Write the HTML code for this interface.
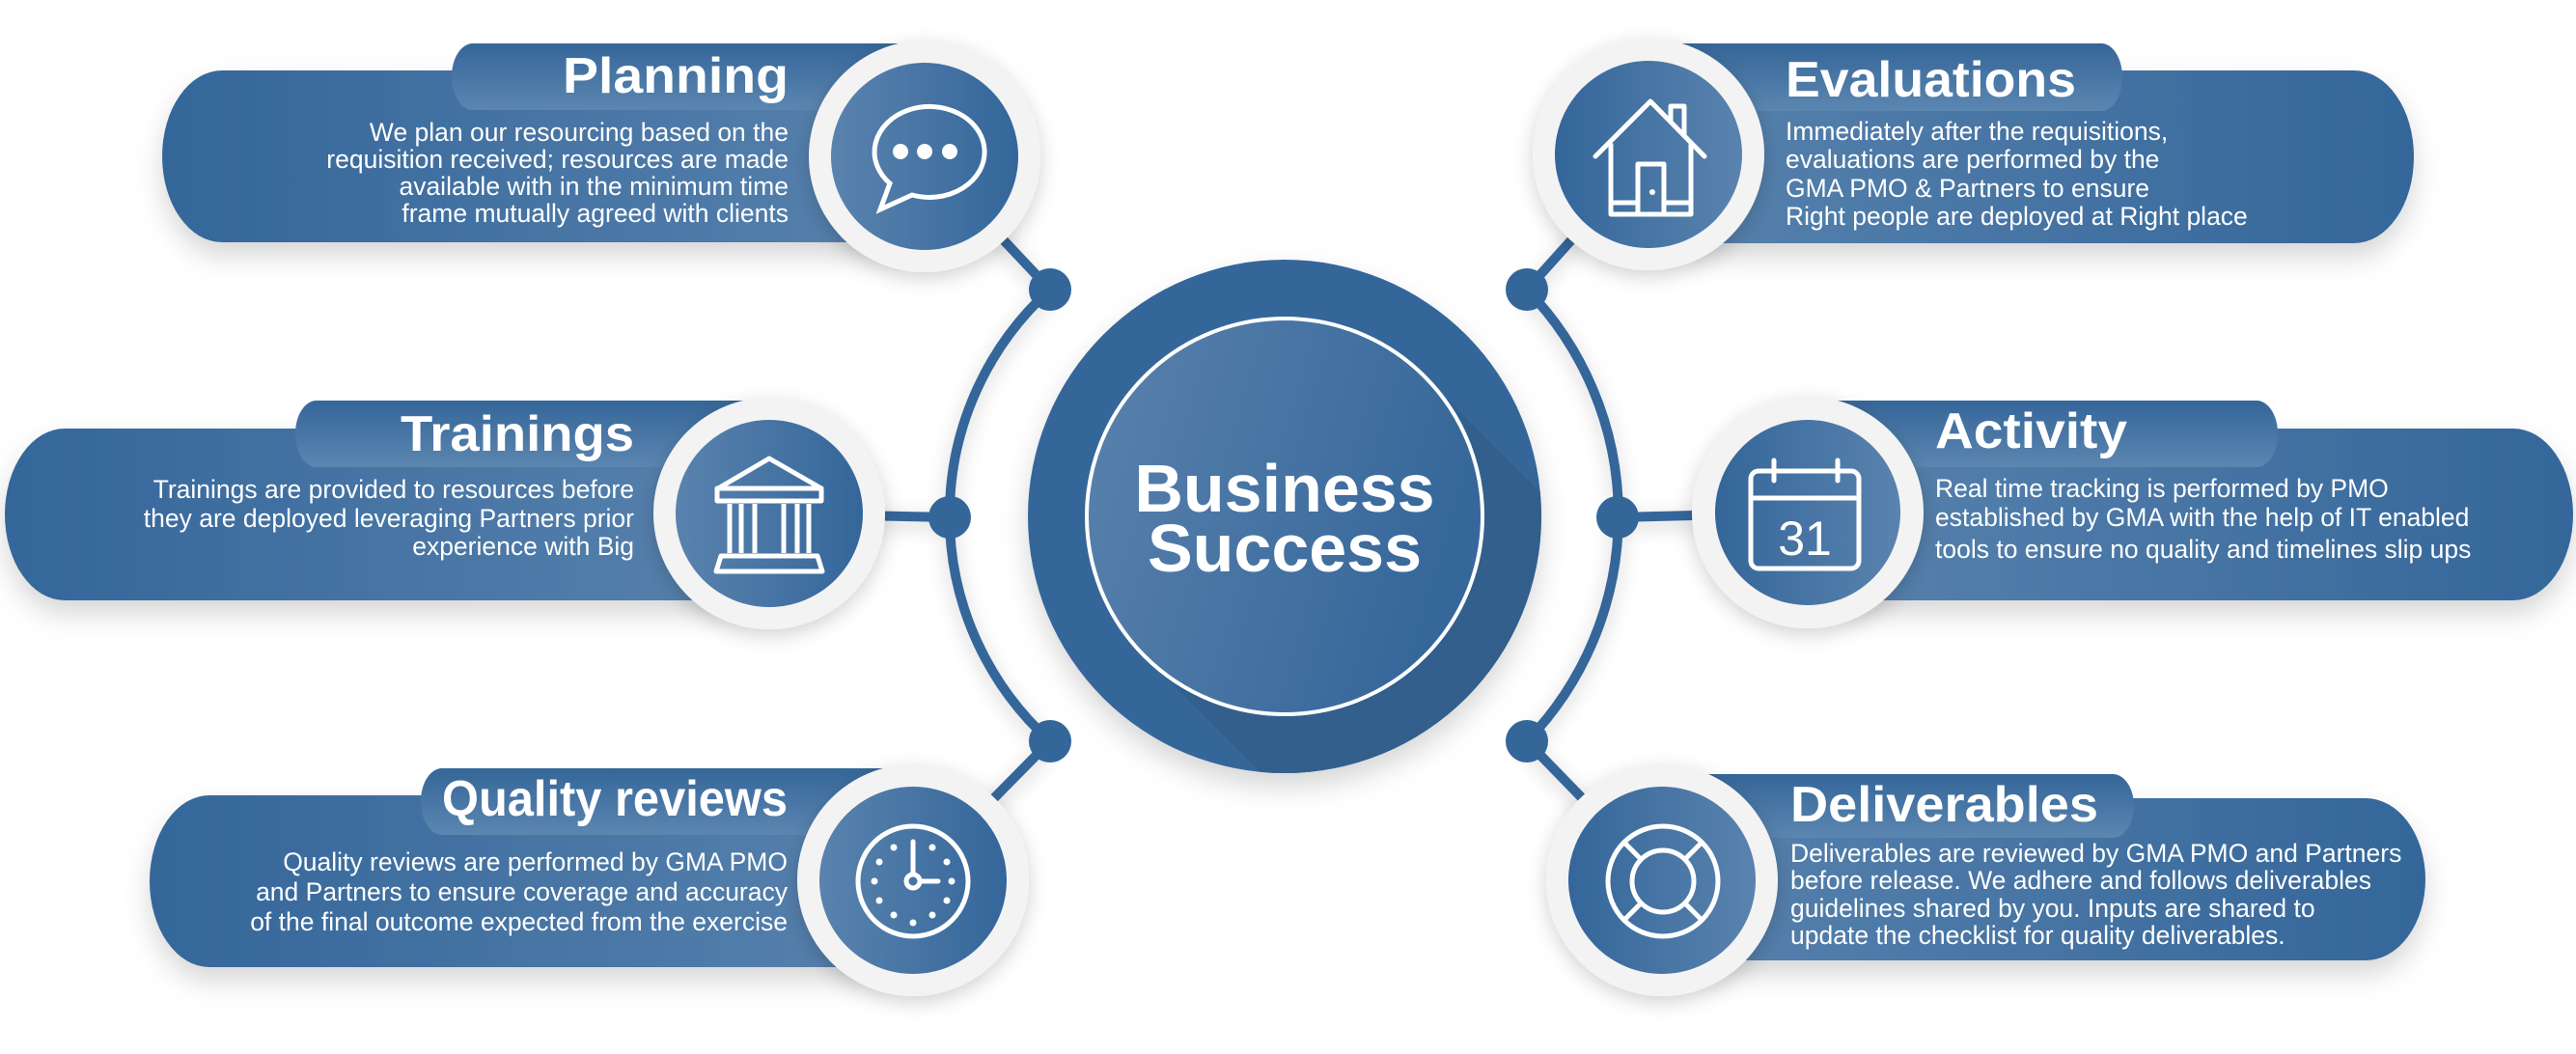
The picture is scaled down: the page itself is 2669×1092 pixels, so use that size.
<!DOCTYPE html>
<html><head><meta charset="utf-8"><style>
html,body{margin:0;padding:0;background:#fff;}
svg{display:block;}
text{font-family:"Liberation Sans",sans-serif;fill:#fff;}
.t{font-weight:bold;font-size:52px;}
.b{font-size:26.5px;}
</style></head><body>
<svg width="2669" height="1092" viewBox="0 0 2669 1092" xmlns="http://www.w3.org/2000/svg">
<defs>
<linearGradient id="tab" x1="0" y1="0" x2="0" y2="1"><stop offset="0" stop-color="#356699"/><stop offset="1" stop-color="#5b86b0"/></linearGradient>
<linearGradient id="bodyL" x1="0" y1="0" x2="1" y2="0"><stop offset="0" stop-color="#34669a"/><stop offset="1" stop-color="#5882ad"/></linearGradient>
<linearGradient id="bodyR" x1="0" y1="0" x2="1" y2="0"><stop offset="0" stop-color="#5882ad"/><stop offset="1" stop-color="#34669a"/></linearGradient>
<linearGradient id="icL" x1="0" y1="0" x2="1" y2="0"><stop offset="0" stop-color="#5a83ae"/><stop offset="1" stop-color="#34669a"/></linearGradient>
<linearGradient id="icR" x1="0" y1="0" x2="1" y2="0"><stop offset="0" stop-color="#34669a"/><stop offset="1" stop-color="#5a83ae"/></linearGradient>
<linearGradient id="cin" x1="0" y1="0" x2="1" y2="0.3"><stop offset="0" stop-color="#5a82ad"/><stop offset="1" stop-color="#36679a"/></linearGradient>
<filter id="sh" x="-20%" y="-30%" width="140%" height="170%"><feDropShadow dx="0" dy="14" stdDeviation="14" flood-color="#000" flood-opacity="0.16"/></filter>
<filter id="sh2" x="-30%" y="-30%" width="160%" height="160%"><feDropShadow dx="0" dy="6" stdDeviation="10" flood-color="#000" flood-opacity="0.18"/></filter>
<clipPath id="cc"><circle cx="1331" cy="535" r="266"/></clipPath>
</defs>

<g stroke="#34669a" stroke-width="10" fill="none" filter="url(#sh2)">
<path d="M1088,300 A315,315 0 0 0 1088,768"/>
<path d="M1582,300 A336,336 0 0 1 1582,768"/>
<line x1="1088" y1="300" x2="958" y2="162"/>
<line x1="984" y1="536" x2="797" y2="532"/>
<line x1="1088" y1="768" x2="946" y2="912"/>
<line x1="1582" y1="300" x2="1708" y2="160"/>
<line x1="1676" y1="536" x2="1873" y2="531"/>
<line x1="1582" y1="768" x2="1722" y2="912"/>
</g>
<g fill="#34669a">
<circle cx="1088" cy="300" r="22"/><circle cx="984" cy="536" r="22"/><circle cx="1088" cy="768" r="22"/>
<circle cx="1582" cy="300" r="22"/><circle cx="1676" cy="536" r="22"/><circle cx="1582" cy="768" r="22"/>
</g>

<circle cx="1331" cy="535" r="266" fill="#34669a" filter="url(#sh)"/>
<g clip-path="url(#cc)"><polygon points="1476,390 1186,680 1586,1080 1876,790" fill="#325f8c"/></g>
<circle cx="1331" cy="535" r="205" fill="url(#cin)" stroke="#fff" stroke-width="4"/>
<text x="1331" y="530" text-anchor="middle" font-weight="bold" font-size="70">Business</text>
<text x="1331" y="592" text-anchor="middle" font-weight="bold" font-size="70">Success</text>

<!-- Planning -->
<g filter="url(#sh)"><rect x="168" y="73" width="790" height="178" rx="62" ry="89" fill="url(#bodyL)"/></g>
<rect x="468" y="45" width="490" height="69" rx="22" ry="34" fill="url(#tab)"/>
<circle cx="958" cy="162" r="120" fill="#f3f3f3" filter="url(#sh2)"/>
<circle cx="958" cy="162" r="97" fill="url(#icL)"/>
<text class="t" x="583" y="96" textLength="234" lengthAdjust="spacingAndGlyphs">Planning</text>
<g text-anchor="end"><text x="817" y="146" class="b">We plan our resourcing based on the</text><text x="817" y="174" class="b">requisition received; resources are made</text><text x="817" y="202" class="b">available with in the minimum time</text><text x="817" y="230" class="b">frame mutually agreed with clients</text></g>
<g stroke="#fff" stroke-width="5" fill="none"><path d="M922,190 A57,47 0 1 1 945,202 L912,217 Z"/></g>
<g fill="#fff"><circle cx="933" cy="157" r="8"/><circle cx="958" cy="157" r="8"/><circle cx="984" cy="157" r="8"/></g>

<!-- Trainings -->
<g filter="url(#sh)"><rect x="5" y="444" width="790" height="178" rx="62" ry="89" fill="url(#bodyL)"/></g>
<rect x="306" y="415" width="490" height="69" rx="22" ry="34" fill="url(#tab)"/>
<circle cx="797" cy="532" r="120" fill="#f3f3f3" filter="url(#sh2)"/>
<circle cx="797" cy="532" r="97" fill="url(#icL)"/>
<text class="t" x="415" y="467" textLength="242" lengthAdjust="spacingAndGlyphs">Trainings</text>
<g text-anchor="end"><text x="657" y="516" class="b">Trainings are provided to resources before</text><text x="657" y="546" class="b">they are deployed leveraging Partners prior</text><text x="657" y="575" class="b">experience with Big</text></g>
<g stroke="#fff" stroke-width="5" fill="none" stroke-linejoin="round">
<path d="M744,506 L797,475 L851,506 Z"/><rect x="743" y="506" width="108" height="13"/>
<path d="M756,522 V573 M768,522 V573 M782,522 V573 M812,522 V573 M826,522 V573 M838,522 V573"/>
<path d="M747,576 H847 L852,592 H742 Z"/></g>

<!-- Quality reviews -->
<g filter="url(#sh)"><rect x="155" y="824" width="790" height="178" rx="62" ry="89" fill="url(#bodyL)"/></g>
<rect x="436" y="796" width="510" height="69" rx="22" ry="34" fill="url(#tab)"/>
<circle cx="946" cy="912" r="120" fill="#f3f3f3" filter="url(#sh2)"/>
<circle cx="946" cy="912" r="97" fill="url(#icL)"/>
<text class="t" x="458" y="845" textLength="358" lengthAdjust="spacingAndGlyphs">Quality reviews</text>
<g text-anchor="end"><text x="816" y="902" class="b">Quality reviews are performed by  GMA PMO</text><text x="816" y="933" class="b">and Partners to ensure coverage and accuracy</text><text x="816" y="964" class="b">of the final outcome expected from the exercise</text></g>
<g stroke="#fff" stroke-width="5" fill="none" stroke-linecap="round"><circle cx="946" cy="913" r="57"/><circle cx="946" cy="913" r="7"/><path d="M946,906 V872 M953,913 H972"/></g>
<g fill="#fff">
<circle cx="946" cy="956" r="3.5"/><circle cx="986" cy="913" r="3.5"/><circle cx="906" cy="913" r="3.5"/>
<circle cx="926" cy="878" r="3.5"/><circle cx="966" cy="878" r="3.5"/><circle cx="981" cy="893" r="3.5"/><circle cx="981" cy="933" r="3.5"/>
<circle cx="966" cy="948" r="3.5"/><circle cx="926" cy="948" r="3.5"/><circle cx="911" cy="933" r="3.5"/><circle cx="911" cy="893" r="3.5"/></g>

<!-- Evaluations -->
<g filter="url(#sh)"><rect x="1710" y="73" width="791" height="179" rx="62" ry="89" fill="url(#bodyR)"/></g>
<rect x="1710" y="45" width="489" height="70" rx="22" ry="35" fill="url(#tab)"/>
<circle cx="1708" cy="160" r="120" fill="#f3f3f3" filter="url(#sh2)"/>
<circle cx="1708" cy="160" r="97" fill="url(#icR)"/>
<text class="t" x="1850" y="100" textLength="301" lengthAdjust="spacingAndGlyphs">Evaluations</text>
<g><text x="1850" y="145" class="b">Immediately after the requisitions,</text><text x="1850" y="174" class="b">evaluations are performed by the</text><text x="1850" y="204" class="b">GMA PMO &amp; Partners to ensure</text><text x="1850" y="233" class="b">Right people are deployed at Right place</text></g>
<g stroke="#fff" stroke-width="5" fill="none" stroke-linejoin="round" stroke-linecap="round">
<path d="M1653,162 L1710,105 L1766,162"/><path d="M1669,150 V222 H1752 V150"/><path d="M1731,125 V110 H1745 V140"/>
<rect x="1697" y="170" width="27" height="52"/><path d="M1669,210 H1697 M1724,210 H1752"/></g>
<circle cx="1712" cy="199" r="3" fill="#fff"/>

<!-- Activity -->
<g filter="url(#sh)"><rect x="1873" y="444" width="793" height="178" rx="62" ry="89" fill="url(#bodyR)"/></g>
<rect x="1873" y="415" width="487" height="69" rx="22" ry="34" fill="url(#tab)"/>
<circle cx="1873" cy="531" r="120" fill="#f3f3f3" filter="url(#sh2)"/>
<circle cx="1873" cy="531" r="96" fill="url(#icR)"/>
<text class="t" x="2005" y="464" textLength="199" lengthAdjust="spacingAndGlyphs">Activity</text>
<g><text x="2005" y="515" class="b">Real time tracking is performed  by PMO</text><text x="2005" y="545" class="b">established by GMA  with the help of IT enabled</text><text x="2005" y="578" class="b">tools to ensure no quality and timelines slip ups</text></g>
<g stroke="#fff" stroke-width="5" fill="none" stroke-linecap="round"><rect x="1814" y="488" width="112" height="101" rx="8"/><path d="M1814,516 H1926 M1838,477 V498 M1904,477 V498"/></g>
<text x="1870" y="575" text-anchor="middle" font-size="50">31</text>

<!-- Deliverables -->
<g filter="url(#sh)"><rect x="1722" y="827" width="791" height="168" rx="62" ry="84" fill="url(#bodyR)"/></g>
<rect x="1722" y="802" width="489" height="66" rx="22" ry="33" fill="url(#tab)"/>
<circle cx="1722" cy="912" r="120" fill="#f3f3f3" filter="url(#sh2)"/>
<circle cx="1722" cy="912" r="97" fill="url(#icR)"/>
<text class="t" x="1855" y="851" textLength="319" lengthAdjust="spacingAndGlyphs">Deliverables</text>
<g><text x="1855" y="893" class="b">Deliverables are reviewed by GMA PMO  and Partners</text><text x="1855" y="921" class="b">before release. We adhere  and follows deliverables</text><text x="1855" y="950" class="b">guidelines shared by you. Inputs are shared to</text><text x="1855" y="978" class="b">update the checklist for quality deliverables.</text></g>
<g stroke="#fff" stroke-width="5" fill="none"><circle cx="1723" cy="913" r="57"/><circle cx="1723" cy="913" r="32"/>
<path d="M1683,873 L1700,890 M1763,873 L1746,890 M1683,953 L1700,936 M1763,953 L1746,936"/></g>
</svg>
</body></html>
